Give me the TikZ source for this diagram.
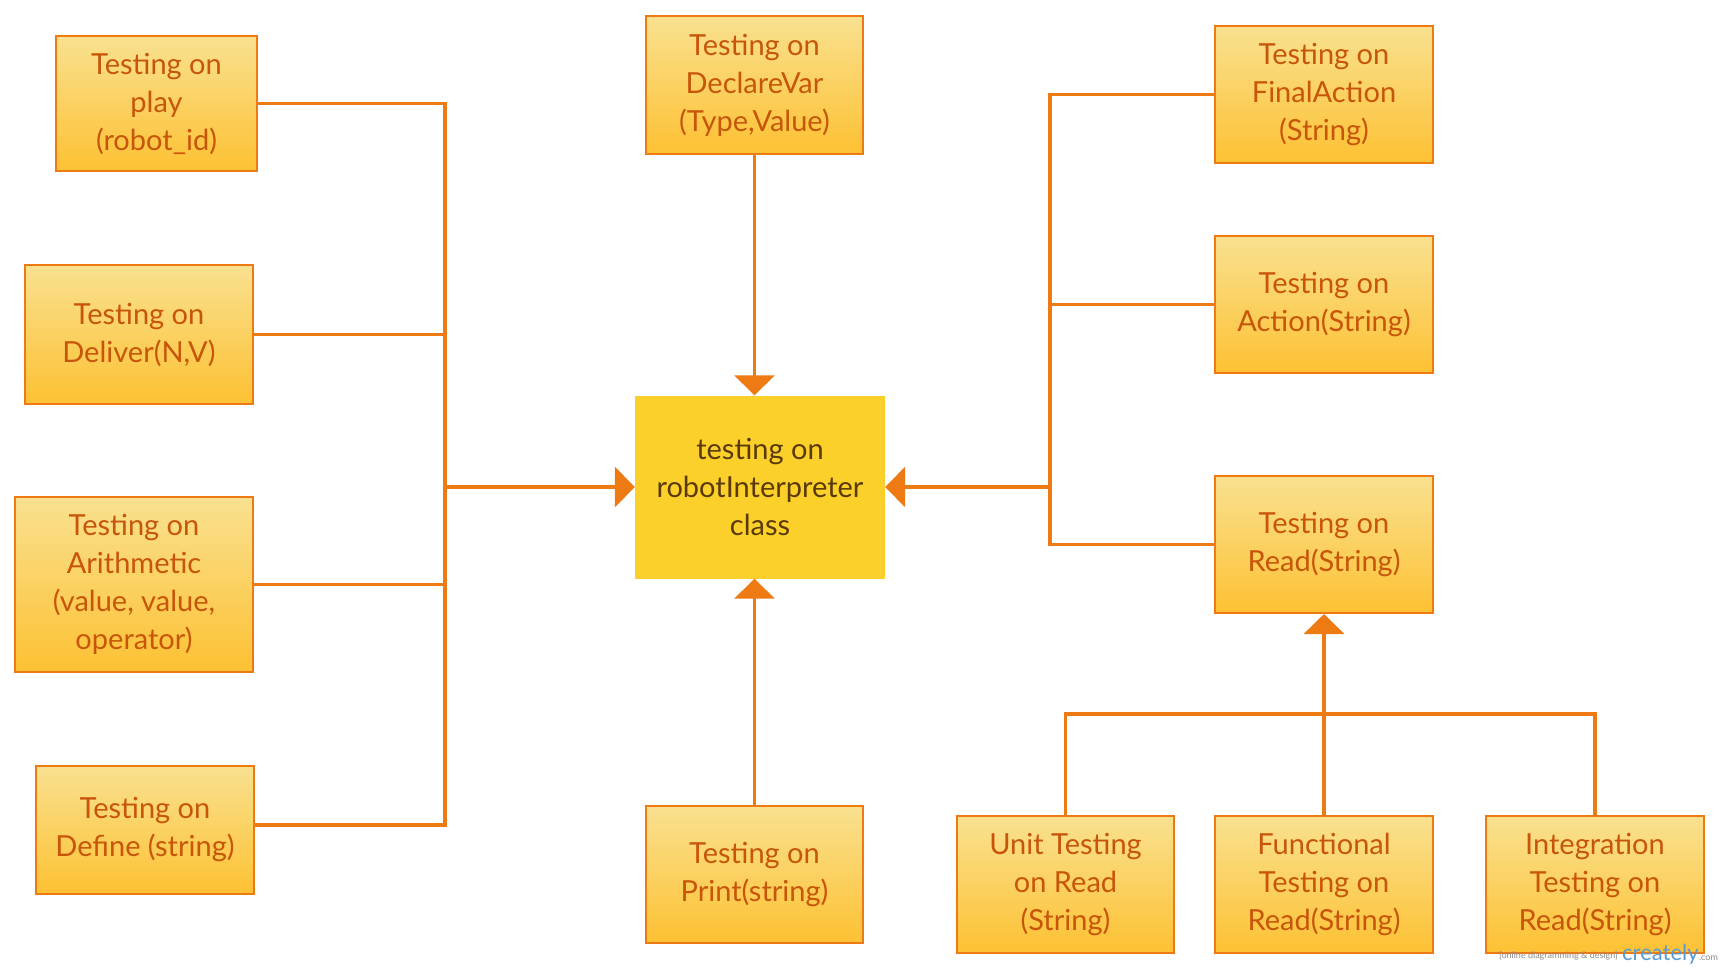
\documentclass[tikz,border=0pt]{standalone}
\usepackage{fontspec}
\setmainfont{Lato}
\usetikzlibrary{arrows.meta}
\definecolor{edge}{HTML}{EE7A14}
\definecolor{boxtop}{HTML}{F9E190}
\definecolor{boxbot}{HTML}{FDC133}
\definecolor{boxtxt}{HTML}{C8560A}
\definecolor{cfill}{HTML}{FBD02A}
\definecolor{ctxt}{HTML}{5A3A08}
\definecolor{wmgrey}{HTML}{8A8A8A}
\definecolor{wmblue}{HTML}{5B9BD5}
\tikzset{
  tbox/.style={draw=edge, line width=2pt, top color=boxtop, bottom color=boxbot,
    text=boxtxt, align=center, inner sep=0pt,
    font=\fontsize{29}{38}\selectfont},
  cbox/.style={fill=cfill, text=ctxt, align=center, inner sep=0pt,
    minimum width=250pt, minimum height=183pt,
    font=\fontsize{29}{38}\selectfont},
  conn/.style={draw=edge, line width=3.5pt},
  arr/.style={conn, -{Triangle[width=40pt,length=20pt]}}
}
\begin{document}
\begin{tikzpicture}[x=1pt,y=-1pt]
\useasboundingbox (0,0) rectangle (1720,970);
% left boxes
\node[tbox, minimum width=201pt, minimum height=135pt] (b1) at (156.5,103.5) {Testing on\\play\\(robot\_id)};
\node[tbox, minimum width=228pt, minimum height=139pt] (b2) at (139,334.5) {Testing on\\Deliver(N,V)};
\node[tbox, minimum width=238pt, minimum height=175pt] (b3) at (134,584.5) {Testing on\\Arithmetic\\(value, value,\\operator)};
\node[tbox, minimum width=218pt, minimum height=128pt] (b4) at (145,830) {Testing on\\Define (string)};
% center column
\node[tbox, minimum width=217pt, minimum height=138pt] (top) at (754.5,85) {Testing on\\DeclareVar\\(Type,Value)};
\node[cbox] (c) at (760,487) {testing on\\robotInterpreter\\class};
\node[tbox, minimum width=217pt, minimum height=137pt] (pr) at (754.5,874.5) {Testing on\\Print(string)};
% right boxes
\node[tbox, minimum width=218pt, minimum height=137pt] (fa) at (1324,94.5) {Testing on\\FinalAction\\(String)};
\node[tbox, minimum width=218pt, minimum height=137pt] (ac) at (1324,304.5) {Testing on\\Action(String)};
\node[tbox, minimum width=218pt, minimum height=137pt] (rd) at (1324,544.5) {Testing on\\Read(String)};
% bottom row
\node[tbox, minimum width=217pt, minimum height=137pt] (un) at (1065.5,884.5) {Unit Testing\\on Read\\(String)};
\node[tbox, minimum width=218pt, minimum height=137pt] (fn) at (1324,884.5) {Functional\\Testing on\\Read(String)};
\node[tbox, minimum width=218pt, minimum height=137pt] (in) at (1595,884.5) {Integration\\Testing on\\Read(String)};
% coordinates
\coordinate (lt) at (445,487);
\coordinate (rt) at (1050,487);
\coordinate (bus) at (1324,714);
\coordinate (b4c) at ([yshift=5pt]b4.east);
% left connectors
\draw[conn] (b1.east) -| (lt |- b4c) -- (b4c);
\draw[conn] (b2.east) -- (lt |- b2.east);
\draw[conn] (b3.east) -- (lt |- b3.east);
\draw[arr] (lt) -- (c.west);
% right connectors
\draw[conn] (fa.west) -| (rt |- rd.west) -- (rd.west);
\draw[conn] (ac.west) -- (rt |- ac.west);
\draw[arr] (rt) -- (c.east);
% top and bottom
\draw[arr] (top.south) -- (top.south |- c.north);
\draw[arr] (pr.north) -- (pr.north |- c.south);
% bottom bus
\draw[conn] (un.north) |- (bus) -| (in.north);
\draw[arr] (fn.north) -- (rd.south);
% watermark
\node[anchor=base east, inner sep=0pt, text=wmgrey, font=\fontsize{9}{10}\selectfont] (wm1) at (1618,958) {[online diagramming \& design]};
\node[anchor=base west, inner sep=0pt, text=wmblue, font=\fontsize{22}{24}\selectfont] (wm2) at (1622,960) {creately};
\node[anchor=base west, inner sep=0pt, text=wmgrey, font=\fontsize{9}{10}\selectfont] (wm3) at (wm2.base east) {.com};
\end{tikzpicture}
\end{document}
